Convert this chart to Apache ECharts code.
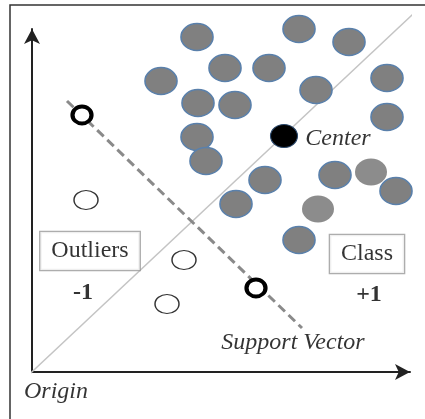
<!DOCTYPE html>
<html>
<head>
<meta charset="utf-8">
<script src="https://cdn.jsdelivr.net/npm/echarts@6/dist/echarts.min.js"></script>
<style>
  html, body { margin: 0; padding: 0; background: #fff; }
  #chart { width: 425px; height: 419px; }
</style>
</head>
<body>
<div id="chart"></div>
<script>
// class +1 points (grey, blue edge)
var classPoints = [
  [165, 335], [267, 343], [317, 330], [129, 291], [193, 304], [237, 304],
  [166, 269], [203, 267], [284, 282], [355, 294], [355, 255], [165, 235],
  [174, 211], [233, 192], [204, 168], [303, 197], [364, 181], [267, 132]
];
// grey points without edge
var plainPoints = [[339, 200], [286, 163]];
var centerPoint = [[252, 236]];
var outlierPoints = [[54, 172], [152, 112], [135, 68]];
var supportPoints = [[50, 257], [224, 84]];
// lines
var supportLine = [[35, 271], [270, 44]];
var diagonal = [[-12, -11], [381, 358]];
// texts
var italicTexts = [[306, 233, 'Center'], [261, 29, 'Support Vector'], [24, -20, 'Origin']];
var boxTexts = [[58, 121, 'Outliers'], [335, 118, 'Class']];
var signTexts = [[51, 79, '-1'], [337, 77, '+1']];

var serif = '"Liberation Serif", "DejaVu Serif", serif';

function textItems(arr) {
  return arr.map(function (d) { return { value: [d[0], d[1]], name: d[2] }; });
}

var chart = echarts.init(document.getElementById('chart'));

chart.setOption({
  animation: false,
  backgroundColor: '#fff',
  grid: { left: 32, top: 29, right: 15, bottom: 47 },
  xAxis: {
    type: 'value', min: 0, max: 378,
    axisLine: { lineStyle: { color: '#222', width: 2 }, symbol: ['none', 'arrow'], symbolSize: [12, 15] },
    axisTick: { show: false }, axisLabel: { show: false }, splitLine: { show: false }
  },
  yAxis: {
    type: 'value', min: 0, max: 343,
    axisLine: { lineStyle: { color: '#222', width: 2 }, symbol: ['none', 'arrow'], symbolSize: [12, 15] },
    axisTick: { show: false }, axisLabel: { show: false }, splitLine: { show: false }
  },
  graphic: [{
    type: 'rect', shape: { x: 10, y: 5, width: 430, height: 430 },
    style: { fill: 'none', stroke: '#333', lineWidth: 1.5 }, z: -1
  }],
  series: [
    {
      type: 'line', data: diagonal, symbol: 'none', clip: false,
      lineStyle: { color: '#c4c4c4', width: 1.5 }, z: 1
    },
    {
      type: 'line', data: supportLine, symbol: 'none', clip: false,
      lineStyle: { color: '#8a8a8a', width: 3, type: [9, 5] }, z: 1
    },
    {
      type: 'scatter', data: classPoints, symbol: 'circle', symbolSize: [32, 27], clip: false,
      itemStyle: { color: '#808080', borderColor: '#5a80ab', borderWidth: 1.5, opacity: 1 }, z: 3
    },
    {
      type: 'scatter', data: plainPoints, symbol: 'circle', symbolSize: [32, 27], clip: false,
      itemStyle: { color: '#8c8c8c', opacity: 1 }, z: 3
    },
    {
      type: 'scatter', data: centerPoint, symbol: 'circle', symbolSize: [27, 23], clip: false,
      itemStyle: { color: '#000', borderColor: '#2c4a6e', borderWidth: 1, opacity: 1 }, z: 4
    },
    {
      type: 'scatter', data: outlierPoints, symbol: 'circle', symbolSize: [24, 19], clip: false,
      itemStyle: { color: '#fff', borderColor: '#333', borderWidth: 1.3, opacity: 1 }, z: 4
    },
    {
      type: 'scatter', data: supportPoints, symbol: 'circle', symbolSize: [19, 17], clip: false,
      itemStyle: { color: '#fff', borderColor: '#000', borderWidth: 4, opacity: 1 }, z: 4
    },
    {
      type: 'scatter', data: textItems(italicTexts), symbolSize: 0, clip: false, z: 5,
      label: {
        show: true, position: 'inside', formatter: '{b}',
        fontFamily: serif, fontStyle: 'italic', fontSize: 24, color: '#000'
      }
    },
    {
      type: 'scatter', data: textItems(boxTexts), symbolSize: 0, clip: false, z: 5,
      label: {
        show: true, position: 'inside', formatter: '{b}',
        fontFamily: serif, fontSize: 24, color: '#000',
        backgroundColor: '#fff', borderColor: '#999', borderWidth: 1.3,
        padding: [7, 11, 7, 11]
      }
    },
    {
      type: 'scatter', data: textItems(signTexts), symbolSize: 0, clip: false, z: 5,
      label: {
        show: true, position: 'inside', formatter: '{b}',
        fontFamily: serif, fontSize: 24, fontWeight: 'bold', color: '#000'
      }
    }
  ]
});
</script>
</body>
</html>
